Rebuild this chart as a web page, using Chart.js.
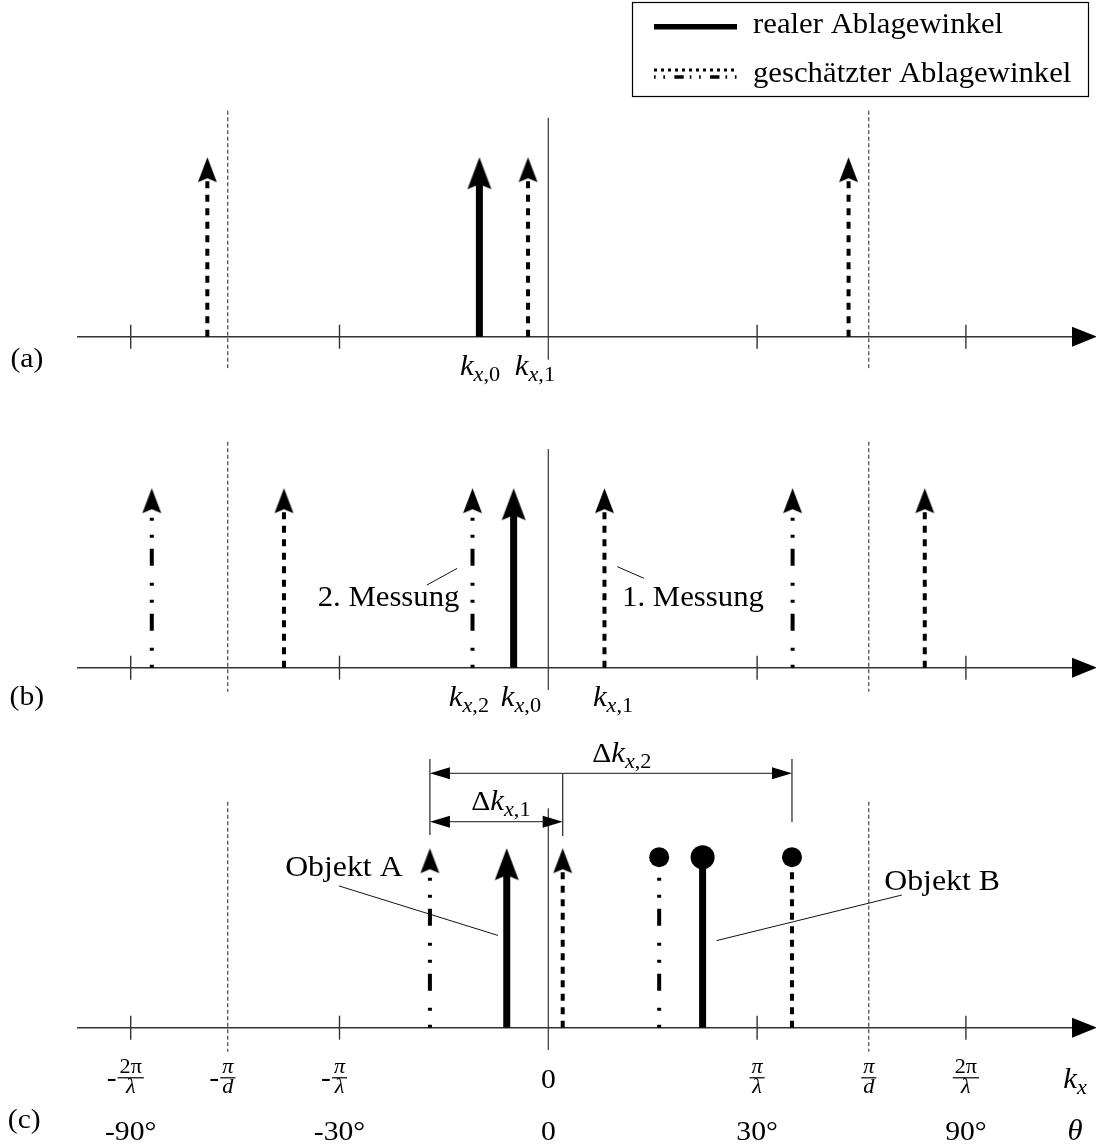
<!DOCTYPE html>
<html><head><meta charset="utf-8">
<script src="https://cdn.jsdelivr.net/npm/chart.js@4/dist/chart.umd.min.js"></script>
<style>html,body{margin:0;padding:0;background:#fff;overflow:hidden}#wrap{position:relative;width:1096px;height:1147px}canvas{display:block}</style>
</head><body><div id="wrap"><canvas id="c" width="1096" height="1147"></canvas></div>
<script>
// ================= DATA (k_x in units of pi/lambda, heights normalised) =================
const panelNames = ['(a)', '(b)', '(c)'];
const arrowHeight = 1;          // all spectral lines have equal magnitude
const objectBHeight = 0.95;     // stems of object B end in dots
const piOverD = 1.535;          // unambiguous range limit pi/d
const tickK = [-2, -1, 1, 2];   // -2pi/lambda, -pi/lambda, pi/lambda, 2pi/lambda
// panel (a)
const a_real = [-0.330];
const a_est = [-1.633, -0.097, 1.438];
// panel (b)
const b_real = [-0.166];
const b_est1 = [-1.266, 0.269, 1.803];   // 1. Messung (dashed)
const b_est2 = [-1.899, -0.363, 1.170];  // 2. Messung (dash-dot)
// panel (c)
const cA_real = [-0.199];
const cA_est1 = [0.069];
const cA_est2 = [-0.567];
const cB_real = [0.739];
const cB_est1 = [1.167];
const cB_est2 = [0.531];
// tick labels
const kxTickLabels = [
  {k: -2, sign: '-', num: '2π', den: 'λ'},
  {k: -piOverD, sign: '-', num: 'π', den: 'd'},
  {k: -1, sign: '-', num: 'π', den: 'λ'},
  {k: 0, plain: '0'},
  {k: 1, num: 'π', den: 'λ'},
  {k: piOverD, num: 'π', den: 'd'},
  {k: 2, num: '2π', den: 'λ'}
];
const thetaTickLabels = [
  {k: -2, t: '-90°'}, {k: -1, t: '-30°'}, {k: 0, t: '0'}, {k: 1, t: '30°'}, {k: 2, t: '90°'}
];
const legendLabels = ['realer Ablagewinkel', 'geschätzter Ablagewinkel'];

// ================= LAYOUT / STYLE =================
const W = 1096, H = 1147;
const PX_PER_K = 208.8, ORIGIN_X = 548.3, PX_PER_UNIT = 179.5;
const AXIS_Y = [336.7, 667.7, 1027.7];
const SERIF = '"Liberation Serif", "DejaVu Serif", serif';
const SX = 1.06;
const F = (size, italic) => (italic ? 'italic ' : '') + size + 'px ' + SERIF;

function yRange(axisPx) { return {min: -(H - axisPx) / PX_PER_UNIT, max: axisPx / PX_PER_UNIT}; }

function makeHead(w, len, notch) {
  const c = document.createElement('canvas');
  c.width = Math.ceil(w) + 2; c.height = 2 * len + 2;
  const g = c.getContext('2d'), cx = c.width / 2, ty = len + 1;
  g.fillStyle = '#000';
  g.beginPath();
  g.moveTo(cx, ty); g.lineTo(cx - w / 2, ty + len); g.lineTo(cx, ty + notch); g.lineTo(cx + w / 2, ty + len);
  g.closePath(); g.fill();
  return c;
}
const HEAD_BIG = makeHead(24, 32, 27);
const HEAD_SMALL = makeHead(19, 25, 21);
const STEM_TOP_SOLID = arrowHeight - 25 / PX_PER_UNIT;
const STEM_TOP_EST = arrowHeight - 19 / PX_PER_UNIT;

const DASH = [7, 6.5];
const DASHDOT = [3, 14, 3, 17, 17, 11];

function stems(xs, top) {
  const d = [];
  xs.forEach(x => { d.push({x: x, y: 0}); d.push({x: x, y: top}); d.push({x: x, y: null}); });
  return d;
}
function tops(xs, h) { return xs.map(x => ({x: x, y: h})); }

const datasets = [];
function addStems(xs, yAxis, style, top) {
  datasets.push({
    type: 'scatter', showLine: true, spanGaps: false, data: stems(xs, top), yAxisID: yAxis,
    borderColor: '#000', borderWidth: style === 'solid' ? 7 : 4,
    borderDash: style === 'solid' ? [] : (style === 'dash' ? DASH : DASHDOT),
    pointRadius: 0, borderCapStyle: 'butt'
  });
}
function addHeads(xs, yAxis, img) {
  datasets.push({type: 'scatter', data: tops(xs, arrowHeight), yAxisID: yAxis,
    pointStyle: img, pointRadius: 4, showLine: false});
}
function addDots(xs, yAxis, r) {
  datasets.push({type: 'scatter', data: tops(xs, objectBHeight), yAxisID: yAxis,
    pointStyle: 'circle', pointRadius: r, backgroundColor: '#000', borderWidth: 0, showLine: false});
}
// (a)
addStems(a_real, 'ya', 'solid', STEM_TOP_SOLID); addHeads(a_real, 'ya', HEAD_BIG);
addStems(a_est, 'ya', 'dash', STEM_TOP_EST); addHeads(a_est, 'ya', HEAD_SMALL);
// (b)
addStems(b_real, 'yb', 'solid', STEM_TOP_SOLID); addHeads(b_real, 'yb', HEAD_BIG);
addStems(b_est1, 'yb', 'dash', STEM_TOP_EST); addHeads(b_est1, 'yb', HEAD_SMALL);
addStems(b_est2, 'yb', 'dashdot', STEM_TOP_EST); addHeads(b_est2, 'yb', HEAD_SMALL);
// (c) object A
addStems(cA_real, 'yc', 'solid', STEM_TOP_SOLID); addHeads(cA_real, 'yc', HEAD_BIG);
addStems(cA_est1, 'yc', 'dash', STEM_TOP_EST); addHeads(cA_est1, 'yc', HEAD_SMALL);
addStems(cA_est2, 'yc', 'dashdot', STEM_TOP_EST); addHeads(cA_est2, 'yc', HEAD_SMALL);
// (c) object B
addStems(cB_real, 'yc', 'solid', objectBHeight); addDots(cB_real, 'yc', 12);
addStems(cB_est1, 'yc', 'dash', objectBHeight); addDots(cB_est1, 'yc', 10);
addStems(cB_est2, 'yc', 'dashdot', objectBHeight); addDots(cB_est2, 'yc', 10);

// ================= annotations (positions in k / unit coordinates) =================
const aliasLineSpan = [[1.259, -0.175], [1.259, -0.134], [1.259, -0.134]];
const centerLineSpan = [[1.22, -0.129], [1.218, -0.124], [1.222, -0.124]];
const axisStartK = -2.257, axisEndK = 2.628;
const panelLabelPos = [[-2.497, -0.130], [-2.497, -0.169], [-2.51, -0.515]];
const kLabels = [
  [{k: -0.327, sub: ',0'}, {k: -0.064, sub: ',1'}],
  [{k: -0.380, sub: ',2'}, {k: -0.131, sub: ',0'}, {k: 0.310, sub: ',1'}],
  []
];
const kLabelY = -0.216;

function line(ctx, x1, y1, x2, y2) { ctx.beginPath(); ctx.moveTo(x1, y1); ctx.lineTo(x2, y2); ctx.stroke(); }
function runs(ctx, parts, x, y, align) {
  let w = 0;
  parts.forEach(p => { ctx.font = p.f; p.w = ctx.measureText(p.t).width * SX; w += p.w; });
  let cx = align === 'center' ? x - w / 2 : (align === 'right' ? x - w : x);
  parts.forEach(p => {
    ctx.save(); ctx.font = p.f; ctx.textAlign = 'left'; ctx.textBaseline = p.base || 'alphabetic';
    ctx.translate(cx, y + (p.dy || 0)); ctx.scale(SX, 1); ctx.fillText(p.t, 0, 0); ctx.restore();
    cx += p.w;
  });
  return w;
}
const kSub = (sub, pre) => (pre ? [{t: pre, f: F(28)}] : []).concat(
  [{t: 'k', f: F(29, true)}, {t: 'x', f: F(21, true), dy: 6}, {t: sub, f: F(21), dy: 6}]);

function hArrowHead(ctx, x, y, dir, len, half) {
  ctx.beginPath(); ctx.moveTo(x, y); ctx.lineTo(x - dir * len, y - half); ctx.lineTo(x - dir * len, y + half); ctx.closePath(); ctx.fill();
}

const deco = {
  id: 'deco',
  beforeDatasetsDraw(chart) {
    const ctx = chart.ctx, X = chart.scales.x;
    const Ys = [chart.scales.ya, chart.scales.yb, chart.scales.yc];
    const px = k => X.getPixelForValue(k);
    ctx.save();
    ctx.strokeStyle = '#000'; ctx.fillStyle = '#000';
    Ys.forEach((Y, i) => {
      const py = v => Y.getPixelForValue(v);
      // pi/d dashed lines
      ctx.lineWidth = 1; ctx.setLineDash([4, 2.5]); ctx.strokeStyle = '#222';
      [-piOverD, piOverD].forEach(k => line(ctx, px(k), py(aliasLineSpan[i][0]), px(k), py(aliasLineSpan[i][1])));
      ctx.setLineDash([]);
      // centre line
      ctx.lineWidth = 1.2; ctx.strokeStyle = '#333';
      line(ctx, px(0), py(centerLineSpan[i][0]), px(0), py(centerLineSpan[i][1]));
      // axis
      ctx.lineWidth = 1.4;
      line(ctx, px(axisStartK), py(0), px(axisEndK) - 20, py(0));
      tickK.forEach(k => line(ctx, px(k), py(0) - 12, px(k), py(0) + 12));
      ctx.fillStyle = '#000';
      hArrowHead(ctx, px(axisEndK), py(0), 1, 25, 10);
    });
    // dimension lines in (c)
    const Yc = Ys[2], py = v => Yc.getPixelForValue(v);
    ctx.strokeStyle = '#222'; ctx.lineWidth = 1.2;
    line(ctx, px(cA_est2[0]), py(1.074), px(cA_est2[0]), py(1.497));
    line(ctx, px(cA_est1[0]), py(1.068), px(cA_est1[0]), py(1.419));
    line(ctx, px(cB_est1[0]), py(1.146), px(cB_est1[0]), py(1.497));
    ctx.strokeStyle = '#444';
    line(ctx, px(cA_est2[0]) + 10, py(1.417), px(cB_est1[0]) - 10, py(1.417));
    line(ctx, px(cA_est2[0]) + 10, py(1.148), px(cA_est1[0]) - 10, py(1.148));
    hArrowHead(ctx, px(cA_est2[0]), py(1.417), -1, 20, 6);
    hArrowHead(ctx, px(cB_est1[0]), py(1.417), 1, 20, 6);
    hArrowHead(ctx, px(cA_est2[0]), py(1.148), -1, 20, 6);
    hArrowHead(ctx, px(cA_est1[0]), py(1.148), 1, 20, 6);
    // leader lines
    ctx.strokeStyle = '#111'; ctx.lineWidth = 1;
    const Yb = Ys[1], pyb = v => Yb.getPixelForValue(v);
    line(ctx, px(-0.582), pyb(0.460), px(-0.437), pyb(0.553));
    line(ctx, px(0.330), pyb(0.563), px(0.458), pyb(0.498));
    line(ctx, px(-1.003), py(0.79), px(-0.241), py(0.514));
    line(ctx, px(1.693), py(0.739), px(0.805), py(0.485));
    ctx.restore();
  },
  afterDatasetsDraw(chart) {
    const ctx = chart.ctx, X = chart.scales.x;
    const Ys = [chart.scales.ya, chart.scales.yb, chart.scales.yc];
    const px = k => X.getPixelForValue(k);
    ctx.save(); ctx.fillStyle = '#000';
    Ys.forEach((Y, i) => {
      const py = v => Y.getPixelForValue(v);
      runs(ctx, [{t: panelNames[i], f: F(28), base: 'middle'}], px(panelLabelPos[i][0]), py(panelLabelPos[i][1]), 'center');
      kLabels[i].forEach(l => runs(ctx, kSub(l.sub), px(l.k), py(kLabelY), 'center'));
    });
    const Yb = Ys[1], pyb = v => Yb.getPixelForValue(v);
    runs(ctx, [{t: '2. Messung', f: F(29), base: 'middle'}], px(-0.765), pyb(0.388), 'center');
    runs(ctx, [{t: '1. Messung', f: F(29), base: 'middle'}], px(0.693), pyb(0.388), 'center');
    const Yc = Ys[2], py = v => Yc.getPixelForValue(v);
    runs(ctx, [{t: 'Objekt A', f: F(30), base: 'middle'}], px(-0.979), py(0.890), 'center');
    runs(ctx, [{t: 'Objekt B', f: F(30), base: 'middle'}], px(1.886), py(0.812), 'center');
    runs(ctx, kSub(',2', 'Δ'), px(0.352), py(1.480), 'center');
    runs(ctx, kSub(',1', 'Δ'), px(-0.227), py(1.213), 'center');
    // k_x tick labels
    kxTickLabels.forEach(l => {
      const x = px(l.k);
      if (l.plain) { runs(ctx, [{t: l.plain, f: F(28)}], x, py(-0.335), 'center'); return; }
      ctx.font = F(21, true);
      const wn = ctx.measureText(l.num).width * SX, wd = ctx.measureText(l.den).width * SX;
      const bw = Math.max(wn, wd) + 4, barY = py(-0.279);
      runs(ctx, [{t: l.num, f: F(21, l.num === 'π')}], x, py(-0.253), 'center');
      runs(ctx, [{t: l.den, f: F(21, true)}], x, py(-0.364), 'center');
      ctx.fillRect(x - bw / 2, barY - 0.6, bw, 1.2);
      if (l.sign) runs(ctx, [{t: l.sign, f: F(28)}], x - bw / 2 - 1, barY + 8, 'right');
    });
    runs(ctx, [{t: 'k', f: F(29, true)}, {t: 'x', f: F(21, true), dy: 6}], px(2.523), py(-0.335), 'center');
    thetaTickLabels.forEach(l => runs(ctx, [{t: l.t, f: F(28)}], px(l.k), py(-0.628), 'center'));
    runs(ctx, [{t: 'θ', f: F(29, true)}], px(2.523), py(-0.628), 'center');
    // legend
    ctx.strokeStyle = '#000'; ctx.lineWidth = 1.2;
    ctx.strokeRect(632.5, 2.5, 456, 94);
    ctx.lineWidth = 5.5; ctx.setLineDash([]);
    line(ctx, 654, 26.7, 737, 26.7);
    ctx.lineWidth = 3; ctx.setLineDash([3, 4]);
    line(ctx, 654, 70, 737, 70);
    ctx.lineWidth = 3.5; ctx.setLineDash(DASHDOT.map(v => v * 0.55));
    line(ctx, 654, 77, 737, 77);
    ctx.setLineDash([]);
    runs(ctx, [{t: legendLabels[0], f: F(29)}], 753, 33.3, 'left');
    runs(ctx, [{t: legendLabels[1], f: F(29)}], 753, 81.7, 'left');
    ctx.restore();
  }
};

new Chart(document.getElementById('c'), {
  data: {datasets: datasets},
  options: {
    responsive: false, devicePixelRatio: 1, animation: false, events: [],
    layout: {padding: 0, autoPadding: false},
    plugins: {legend: {display: false}, tooltip: {enabled: false}},
    scales: {
      x: {type: 'linear', display: false, min: -ORIGIN_X / PX_PER_K, max: (W - ORIGIN_X) / PX_PER_K},
      ya: Object.assign({type: 'linear', display: false}, yRange(AXIS_Y[0])),
      yb: Object.assign({type: 'linear', display: false}, yRange(AXIS_Y[1])),
      yc: Object.assign({type: 'linear', display: false}, yRange(AXIS_Y[2]))
    }
  },
  plugins: [deco]
});
</script>
</body></html>
